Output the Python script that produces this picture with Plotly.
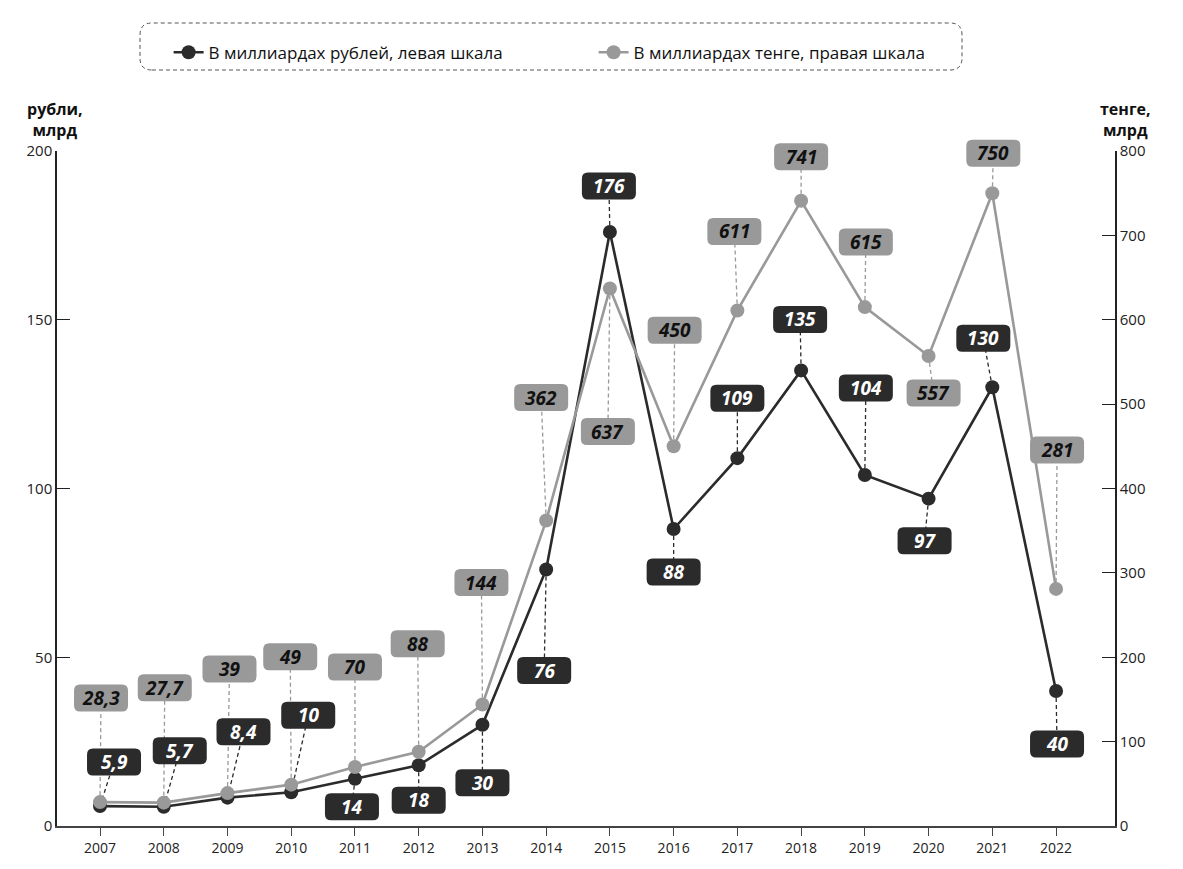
import plotly.graph_objects as go

# Annual volumes: billions of roubles (left axis) and billions of tenge (right axis)
years = list(range(2007, 2023))
rub_bn = [5.9, 5.7, 8.4, 10, 14, 18, 30, 76, 176, 88, 109, 135, 104, 97, 130, 40]
tenge_bn = [28.3, 27.7, 39, 49, 70, 88, 144, 362, 637, 450, 611, 741, 615, 557, 750, 281]

rub_name = "В миллиардах рублей, левая шкала"
tenge_name = "В миллиардах тенге, правая шкала"
year_ticks = [str(y) for y in years]
left_ticks = [0, 50, 100, 150, 200]
right_ticks = [0, 100, 200, 300, 400, 500, 600, 700, 800]
LEFT_RANGE = [0, 200]
RIGHT_RANGE = [0, 800]

# Label placement: pixel offset (dx right, dy down) of each value box from its point
rub_label_offset = [(14, -44), (16, -56), (16, -66), (17, -77), (-3, 28), (0, 35),
                    (0, 58), (-2, 101), (-1, -46), (0, 43), (0, -60), (-1, -51),
                    (1, -87), (-4, 42), (-9, -49), (1, 53)]
tenge_label_offset = [(1, -104), (1, -115), (2, -124), (-1, -128), (0, -100), (-1, -108),
                      (-1, -122), (-5, -123), (-2, 143), (1, -116), (-3, -79), (0, -44),
                      (1, -65), (5, 37), (1, -40), (1, -139)]

DARK = "#2b2b2b"
GREY = "#999999"
FONT = "Open Sans"
BOX_W, BOX_H, BOX_R = 54, 27, 6


def fmt(v):
    if float(v).is_integer():
        return str(int(v))
    return f"{v}".replace(".", ",")


def rounded_rect(cx, cy, w, h, r):
    """Rounded rectangle path in pixel offsets (y upward)."""
    x0, x1 = cx - w / 2, cx + w / 2
    y0, y1 = cy - h / 2, cy + h / 2
    return (f"M{x0 + r},{y0} L{x1 - r},{y0} Q{x1},{y0} {x1},{y0 + r} "
            f"L{x1},{y1 - r} Q{x1},{y1} {x1 - r},{y1} L{x0 + r},{y1} "
            f"Q{x0},{y1} {x0},{y1 - r} L{x0},{y0 + r} Q{x0},{y0} {x0 + r},{y0} Z")


fig = go.Figure()

fig.add_trace(go.Scatter(
    x=years, y=tenge_bn, name=tenge_name, yaxis="y2",
    mode="lines+markers",
    line=dict(color=GREY, width=2.6),
    marker=dict(color=GREY, size=14),
))
fig.add_trace(go.Scatter(
    x=years, y=rub_bn, name=rub_name, yaxis="y",
    mode="lines+markers",
    line=dict(color=DARK, width=2.6),
    marker=dict(color=DARK, size=14),
))

shapes = []
annotations = []


def add_labels(values, offsets, axis, axis_range, box_color, text_color, dash_color):
    lo, hi = axis_range
    for yr, v, (dx, dy) in zip(years, values, offsets):
        # boxes are anchored in the axis domain so ones near the top are not clipped
        common = dict(xref="x", yref=f"{axis} domain", xsizemode="pixel", ysizemode="pixel",
                      xanchor=yr, yanchor=(v - lo) / (hi - lo))
        # dashed leader from the point to its value box
        shapes.append(dict(type="line", x0=0, y0=0, x1=dx, y1=-dy, layer="below",
                           line=dict(color=dash_color, width=1.3, dash="4px,3px"), **common))
        # rounded value box
        shapes.append(dict(type="path", path=rounded_rect(dx, -dy, BOX_W, BOX_H, BOX_R),
                           fillcolor=box_color, line=dict(width=0), layer="above", **common))
        annotations.append(dict(
            x=yr, y=v, xref="x", yref=axis, text=fmt(v), showarrow=False,
            xshift=dx, yshift=-dy,
            font=dict(family=FONT, size=19, color=text_color, weight="bold", style="italic"),
        ))


add_labels(tenge_bn, tenge_label_offset, "y2", RIGHT_RANGE, GREY, "#111111", GREY)
add_labels(rub_bn, rub_label_offset, "y", LEFT_RANGE, DARK, "#ffffff", DARK)

# dashed rounded frame around the legend (pixel offsets from plot bottom-left)
shapes.append(dict(type="path", xref="paper", yref="paper", xsizemode="pixel",
                   ysizemode="pixel", xanchor=0, yanchor=0,
                   path=rounded_rect((83 + 905) / 2, (803 + 756) / 2, 822, 47, 12),
                   line=dict(color="#555555", width=1, dash="4px,3px"),
                   fillcolor="rgba(0,0,0,0)", layer="above"))

# axis unit titles
for xpos, txt in [(-0.002, "рубли,<br>млрд"), (1.0095, "тенге,<br>млрд")]:
    annotations.append(dict(x=xpos, y=1.046, xref="paper", yref="paper",
                            text=txt, showarrow=False, xanchor="center",
                            yanchor="middle", align="center",
                            font=dict(family=FONT, size=16, color="#111111", weight="bold")))

fig.update_layout(
    width=1183, height=869,
    margin=dict(l=57, r=68, t=151, b=38),
    plot_bgcolor="white", paper_bgcolor="white",
    font=dict(family=FONT, size=14, color="#222222"),
    shapes=shapes, annotations=annotations,
    legend=dict(orientation="h", x=0.1055, y=1.1456, xanchor="left", yanchor="middle",
                traceorder="reversed", entrywidth=380, font=dict(size=17, color="#111111"),
                bgcolor="rgba(0,0,0,0)"),
    xaxis=dict(range=[2006.325, 2022.925], tickvals=years, ticktext=year_ticks,
               showgrid=False, zeroline=False, showline=True, linecolor="#444444",
               linewidth=1.5, ticks="outside", ticklen=8, tickcolor="#444444",
               tickfont=dict(size=14)),
    yaxis=dict(range=LEFT_RANGE, tickvals=left_ticks, showgrid=False, zeroline=False,
               showline=True, linecolor="#222222", linewidth=1.5, ticks="inside",
               ticklen=13, tickcolor="#222222", tickfont=dict(size=15)),
    yaxis2=dict(range=RIGHT_RANGE, tickvals=right_ticks, overlaying="y", side="right",
                showgrid=False, zeroline=False, showline=True, linecolor="#222222",
                linewidth=1.5, ticks="inside", ticklen=13, tickcolor="#222222",
                tickfont=dict(size=15)),
)

fig.write_html("out.html")
